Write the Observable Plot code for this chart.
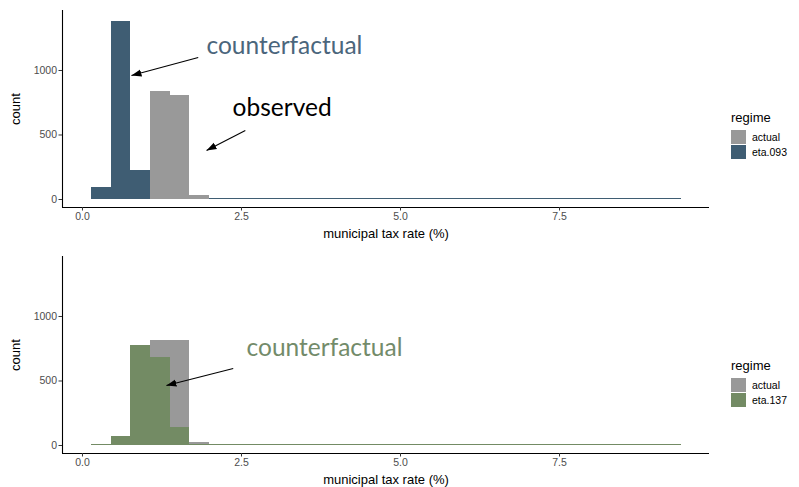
<!DOCTYPE html>
<html>
<head>
<meta charset="utf-8">
<script src="https://cdn.jsdelivr.net/npm/d3@7"></script>
<script src="https://cdn.jsdelivr.net/npm/@observablehq/plot@0.6"></script>
<style>
  html, body { margin: 0; padding: 0; background: #ffffff; overflow: hidden; }
  #root { position: relative; width: 799px; height: 487px; overflow: hidden; font-family: "Liberation Sans", Arial, sans-serif; }
  .panel { position: absolute; left: 0; }
  .legend { position: absolute; left: 731px; font-family: "Liberation Sans", Arial, sans-serif; }
  .legend .title { font-size: 13px; color: #000; margin-bottom: 4px; }
  .legend .item { display: flex; align-items: center; height: 15px; font-size: 10.5px; color: #000; }
  .legend .key { width: 15px; height: 14px; margin-right: 6px; }
</style>
</head>
<body>
<div id="root"></div>
<script>
// ---- data ----
const binEdges = [0.14, 0.45, 0.76, 1.07, 1.38, 1.69, 2.00, 2.31, 2.62, 2.92, 3.23, 3.54, 3.85, 4.16, 4.47, 4.78,
                  5.09, 5.40, 5.71, 6.02, 6.33, 6.64, 6.95, 7.25, 7.56, 7.87, 8.18, 8.49, 8.80, 9.11, 9.42];
// top panel (regime: actual vs eta.093)
const actualTop = [0, 0, 0, 840, 806, 31, 0, 0, 0, 0, 0, 0, 0, 0, 0, 0, 0, 0, 0, 0, 0, 0, 0, 0, 0, 0, 0, 0, 0, 0];
const eta093    = [93, 1380, 225, 0, 0, 0, 6, 6, 6, 6, 6, 6, 6, 6, 6, 6, 6, 6, 6, 6, 6, 6, 6, 6, 6, 6, 6, 6, 6, 6];
// bottom panel (regime: actual vs eta.137)
const actualBottom = [0, 0, 0, 816, 816, 26, 0, 0, 0, 0, 0, 0, 0, 0, 0, 0, 0, 0, 0, 0, 0, 0, 0, 0, 0, 0, 0, 0, 0, 0];
const eta137       = [6, 72, 775, 684, 142, 4, 6, 6, 6, 6, 6, 6, 6, 6, 6, 6, 6, 6, 6, 6, 6, 6, 6, 6, 6, 6, 6, 6, 6, 6];

const xTicks = [0, 2.5, 5, 7.5];
const yTicks = [0, 500, 1000];
const xDomain = [-0.314, 9.858];
const yDomain = [-62, 1465];
const xLabel = "municipal tax rate (%)";
const yLabel = "count";
const colors = {"actual": "#999999", "eta.093": "#3f5d73", "eta.137": "#738b64"};

// annotations
const topTexts = [
  {x: 1.95, y: 1186, text: "counterfactual", color: "#4b667c"},
  {x: 2.36, y: 705, text: "observed", color: "#000000"}
];
const topArrows = [
  {x1: 1.82, y1: 1100, x2: 0.77, y2: 961},
  {x1: 2.56, y1: 535, x2: 1.95, y2: 380}
];
const bottomTexts = [
  {x: 2.58, y: 752, text: "counterfactual", color: "#738b6a"}
];
const bottomArrows = [
  {x1: 2.37, y1: 597, x2: 1.32, y2: 465}
];

function rows(counts) {
  return counts.map((c, i) => ({x1: binEdges[i], x2: binEdges[i + 1], count: c}));
}

function panel(actual, eta, etaName, texts, arrows, height) {
  const svg = Plot.plot({
    width: 799,
    height: height,
    marginLeft: 62,
    marginRight: 90,
    marginTop: 10,
    marginBottom: height - 207,
    style: {fontFamily: "Liberation Sans, Arial, sans-serif", background: "transparent"},
    x: {domain: xDomain},
    y: {domain: yDomain},
    marks: [
      Plot.rectY(rows(actual), {x1: "x1", x2: "x2", y: "count", fill: colors["actual"], shapeRendering: "crispEdges"}),
      Plot.rectY(rows(eta), {x1: "x1", x2: "x2", y: "count", fill: colors[etaName], shapeRendering: "crispEdges"}),
      Plot.ruleY([yDomain[0]], {stroke: "#000", strokeWidth: 1.1}),
      Plot.ruleX([xDomain[0]], {stroke: "#000", strokeWidth: 1.1}),
      Plot.axisX({ticks: xTicks, tickFormat: d => d.toFixed(1), tickSize: 3.5, tickPadding: 2,
                  fontSize: 10.5, color: "#4d4d4d", stroke: "#333",
                  label: xLabel, labelAnchor: "center", labelOffset: 30, labelArrow: "none"}),
      Plot.axisY({ticks: yTicks, tickFormat: d => String(d), tickSize: 3.5, tickPadding: 2,
                  fontSize: 10.5, color: "#4d4d4d", stroke: "#333",
                  label: yLabel, labelAnchor: "center", labelOffset: 52, labelArrow: "none"}),
      Plot.link(arrows, {x1: "x1", y1: "y1", x2: "x2", y2: "y2", stroke: "#000", strokeWidth: 1.1}),
      Plot.text(texts, {x: "x", y: "y", text: "text", fill: d => d.color, textAnchor: "start",
                        fontSize: 24.5, fontFamily: "Lato, 'Open Sans', sans-serif"})
    ]
  });
  const s = d3.select(svg);
  s.selectAll('g[aria-label="x-axis label"] text, g[aria-label="y-axis label"] text')
    .attr("fill", "#000").style("font-size", "13px");
  s.selectAll('g[aria-label="x-axis label"], g[aria-label="y-axis label"]')
    .attr("fill", "#000").attr("font-size", 13);
  // closed arrowheads
  const id = "ah-" + etaName.replace(".", "");
  const defs = s.append("defs");
  defs.append("marker")
    .attr("id", id)
    .attr("viewBox", "0 -5 10 10")
    .attr("refX", 10).attr("refY", 0)
    .attr("markerUnits", "userSpaceOnUse")
    .attr("markerWidth", 10).attr("markerHeight", 10)
    .attr("orient", "auto")
    .append("path").attr("d", "M0,-3.6L10,0L0,3.6Z").attr("fill", "#000");
  s.selectAll('g[aria-label="link"] path').attr("marker-end", `url(#${id})`);
  return svg;
}

function legend(top, etaName) {
  const div = document.createElement("div");
  div.className = "legend";
  div.style.top = top + "px";
  div.innerHTML = `<div class="title">regime</div>` +
    ["actual", etaName].map(r =>
      `<div class="item"><div class="key" style="background:${colors[r]}"></div>${r}</div>`).join("");
  return div;
}

const root = document.getElementById("root");
const p1 = panel(actualTop, eta093, "eta.093", topTexts, topArrows, 246);
p1.classList.add("panel"); p1.style.top = "0px";
const p2 = panel(actualBottom, eta137, "eta.137", bottomTexts, bottomArrows, 241);
p2.classList.add("panel"); p2.style.top = "246px";
root.appendChild(p1);
root.appendChild(p2);
root.appendChild(legend(110, "eta.093"));
root.appendChild(legend(358, "eta.137"));
</script>
</body>
</html>
